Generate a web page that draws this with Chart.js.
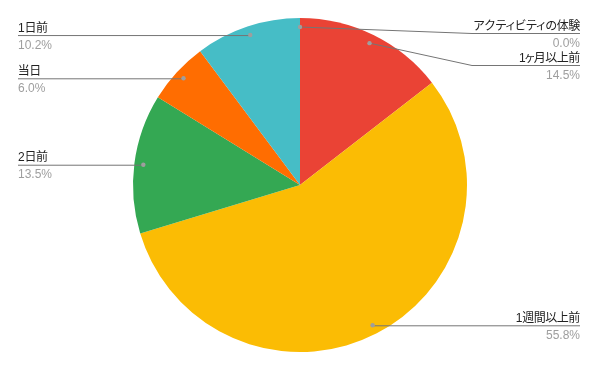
<!DOCTYPE html>
<html>
<head>
<meta charset="utf-8">
<script src="https://cdn.jsdelivr.net/npm/chart.js@4"></script>
<style>
  html, body { margin: 0; padding: 0; background: #fff; }
  #wrap { width: 600px; height: 371px; }
</style>
</head>
<body>
<div id="wrap"><canvas id="pieChart"></canvas></div>
<script>
// data (percent)
const categories = ['アクティビティの体験', '1ヶ月以上前', '1週間以上前', '2日前', '当日', '1日前'];
const shares = [0.0, 14.5, 55.8, 13.5, 6.0, 10.2];
const colors = ['#4285f4', '#ea4335', '#fbbc04', '#34a853', '#ff6d01', '#46bdc6'];

const FONT = "'Liberation Sans', Arial, 'Noto Sans CJK JP', sans-serif";

// rough proportional spacing for japanese text (canvas has no palt)
function advanceOf(c, ch) {
  const w = c.measureText(ch).width;
  if (/[ァィゥェォッャュョヮヵヶ]/.test(ch)) return w * 0.7;
  if (/[\u30A0-\u30FF]/.test(ch)) return w * 0.92;
  if (/[\u3040-\u9FFF]/.test(ch)) return w - 0.5;
  return w;
}

function drawJp(c, text, x, y, alignRight) {
  const chars = Array.from(text);
  const adv = chars.map(ch => advanceOf(c, ch));
  const total = adv.reduce((a, b) => a + b, 0);
  let cx = alignRight ? x - total : x;
  c.textAlign = 'left';
  chars.forEach((ch, k) => {
    const w = c.measureText(ch).width;
    c.fillText(ch, cx - (w - adv[k]) / 2, y);
    cx += adv[k];
  });
}

// leader lines + labels, google-sheets style
const calloutPlugin = {
  id: 'callouts',
  afterDatasetsDraw(chart) {
    const c = chart.ctx;
    const meta = chart.getDatasetMeta(0);
    const total = shares.reduce((a, b) => a + b, 0);
    const items = meta.data.map((arc, i) => {
      const p = arc.getProps(['x', 'y', 'startAngle', 'endAngle', 'outerRadius'], true);
      const mid = (p.startAngle + p.endAngle) / 2;
      const r = p.outerRadius * 0.946;
      return {
        i,
        dx: p.x + Math.cos(mid) * r,
        dy: p.y + Math.sin(mid) * r,
        right: Math.cos(mid) >= -1e-6
      };
    });

    ['right', 'left'].forEach(side => {
      const list = items.filter(it => (side === 'right') === it.right).sort((a, b) => a.dy - b.dy);
      let prev = -Infinity;
      list.forEach(it => {
        it.ly = Math.max(it.dy, prev + 32, 33);
        prev = it.ly;
      });
    });

    c.save();
    items.forEach(it => {
      const right = it.right;
      const edgeX = right ? 580 : 18;
      const elbowX = right ? 472 : 128;
      c.strokeStyle = '#757575';
      c.lineWidth = 1;
      c.beginPath();
      c.moveTo(it.dx, it.dy);
      if (Math.abs(it.ly - it.dy) > 0.5) c.lineTo(elbowX, it.ly + 0.5);
      else c.lineTo(it.dx, it.ly + 0.5);
      c.lineTo(edgeX, it.ly + 0.5);
      c.stroke();

      c.fillStyle = '#9e9e9e';
      c.beginPath();
      c.arc(it.dx, it.dy, 2.2, 0, Math.PI * 2);
      c.fill();

      c.textBaseline = 'alphabetic';
      c.font = '12px ' + FONT;
      c.fillStyle = '#222222';
      drawJp(c, categories[it.i], edgeX, it.ly - 3.5, right);
      c.fillStyle = '#9e9e9e';
      c.textAlign = right ? 'right' : 'left';
      c.fillText((shares[it.i] / total * 100).toFixed(1) + '%', edgeX, it.ly + 13.5);
    });
    c.restore();
  }
};

new Chart(document.getElementById('pieChart').getContext('2d'), {
  type: 'pie',
  data: {
    labels: categories,
    datasets: [{
      data: shares,
      backgroundColor: colors,
      borderWidth: 0
    }]
  },
  options: {
    responsive: true,
    maintainAspectRatio: false,
    animation: false,
    layout: { padding: { top: 18, bottom: 19 } },
    plugins: {
      legend: { display: false },
      tooltip: { enabled: false }
    }
  },
  plugins: [calloutPlugin]
});
</script>
</body>
</html>
